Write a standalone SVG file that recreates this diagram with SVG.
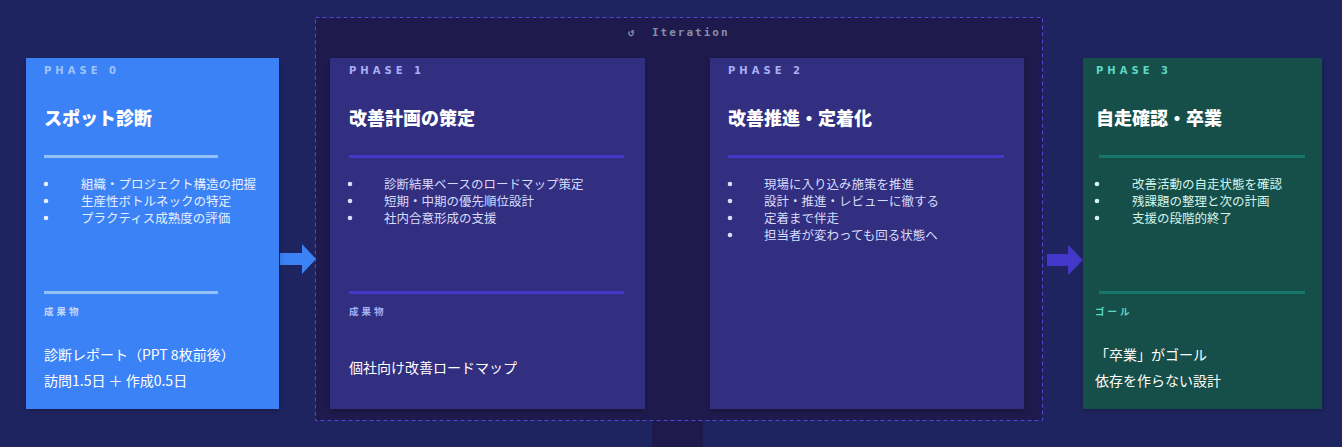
<svg xmlns="http://www.w3.org/2000/svg" width="1342" height="447" viewBox="0 0 1342 447">
<defs>
<style>
.jp{font-family:"Noto Sans CJK JP","Noto Sans",sans-serif}
.ph{font-family:"DejaVu Sans",sans-serif;font-weight:700;font-size:10px;letter-spacing:4px}
.ttl{font-family:"Noto Sans CJK JP",sans-serif;font-weight:800;font-size:18px;fill:#ffffff}
.li{font-family:"Noto Sans CJK JP",sans-serif;font-size:12.5px}
.lab{font-family:"Noto Sans CJK JP",sans-serif;font-weight:700;font-size:9.5px;letter-spacing:3px}
.dl{font-family:"Noto Sans CJK JP",sans-serif;font-size:14px;fill:#ffffff}
.it{font-family:"DejaVu Sans Mono",monospace;font-weight:700;font-size:11px;fill:#8a8ca6}
</style>
<filter id="sh" x="-10%" y="-10%" width="120%" height="120%">
<feDropShadow dx="0" dy="2" stdDeviation="3" flood-color="#000" flood-opacity="0.25"/>
</filter>
</defs>
<rect x="0" y="0" width="1342" height="447" fill="#1e2460"/>
<g id="iteration">
<rect x="652" y="415" width="51" height="32" fill="#1e1a4d"/>
<rect x="315.5" y="17.5" width="727" height="403" fill="#1e1a4d" stroke="#4f47d8" stroke-width="1" stroke-dasharray="4 3"/>
<text class="it" x="628" y="36">↺</text>
<text class="it" x="652" y="36" letter-spacing="2">Iteration</text>
</g>
<g id="connectors">
<polygon points="280,253 302,253 302,244 316,259 302,274 302,265 280,265" fill="#3b82f6"/>
<polygon points="1047,254 1068,254 1068,245 1083,260 1068,275 1068,266 1047,266" fill="#4338ca"/>
</g>
<g id="phase0">
<rect x="26" y="58" width="253" height="351" fill="#3b82f6" filter="url(#sh)"/>
<text class="ph" x="44" y="74" fill="#bcd6fb" fill-opacity="0.8">PHASE 0</text>
<text class="ttl" x="44" y="125">スポット診断</text>
<rect x="44" y="155" width="174" height="3" fill="#93c0fb"/>
<g fill="#e6efff">
<circle cx="46" cy="184" r="2.3"/><circle cx="46" cy="201" r="2.3"/><circle cx="46" cy="218" r="2.3"/>
<text class="li" x="81" y="189">組織・プロジェクト構造の把握</text>
<text class="li" x="81" y="206">生産性ボトルネックの特定</text>
<text class="li" x="81" y="223">プラクティス成熟度の評価</text>
</g>
<rect x="44" y="291" width="174" height="3" fill="#93c0fb"/>
<text class="lab" x="44" y="315" fill="#c3d9fb">成果物</text>
<text class="dl" x="44" y="360">診断レポート（PPT 8枚前後）</text>
<text class="dl" x="44" y="386">訪問1.5日 ＋ 作成0.5日</text>
</g>
<g id="phase1">
<rect x="330" y="58" width="315" height="351" fill="#312e80" filter="url(#sh)"/>
<text class="ph" x="349" y="74" fill="#a5b0f5">PHASE 1</text>
<text class="ttl" x="349" y="125">改善計画の策定</text>
<rect x="349" y="155" width="275" height="3" fill="#4338ca"/>
<g fill="#d6dcfb">
<circle cx="350" cy="184" r="2.3"/><circle cx="350" cy="201" r="2.3"/><circle cx="350" cy="218" r="2.3"/>
<text class="li" x="384" y="189">診断結果ベースのロードマップ策定</text>
<text class="li" x="384" y="206">短期・中期の優先順位設計</text>
<text class="li" x="384" y="223">社内合意形成の支援</text>
</g>
<rect x="349" y="291" width="275" height="3" fill="#4338ca"/>
<text class="lab" x="349" y="315" fill="#a5b0f5">成果物</text>
<text class="dl" x="349" y="373">個社向け改善ロードマップ</text>
</g>
<g id="phase2">
<rect x="710" y="58" width="314" height="351" fill="#312e80" filter="url(#sh)"/>
<text class="ph" x="728" y="74" fill="#a5b0f5">PHASE 2</text>
<text class="ttl" x="728" y="125">改善推進・定着化</text>
<rect x="728" y="155" width="276" height="3" fill="#4338ca"/>
<g fill="#d6dcfb">
<circle cx="730" cy="184" r="2.3"/><circle cx="730" cy="201" r="2.3"/><circle cx="730" cy="218" r="2.3"/><circle cx="730" cy="235" r="2.3"/>
<text class="li" x="764" y="189">現場に入り込み施策を推進</text>
<text class="li" x="764" y="206">設計・推進・レビューに徹する</text>
<text class="li" x="764" y="223">定着まで伴走</text>
<text class="li" x="764" y="240">担当者が変わっても回る状態へ</text>
</g>
</g>
<g id="phase3">
<rect x="1083" y="58" width="239" height="351" fill="#134f4a" filter="url(#sh)"/>
<text class="ph" x="1096" y="74" fill="#5ed8c4">PHASE 3</text>
<text class="ttl" x="1096" y="125">自走確認・卒業</text>
<rect x="1099" y="155" width="206" height="3" fill="#17766a"/>
<g fill="#d3f5ec">
<circle cx="1097" cy="184" r="2.3"/><circle cx="1097" cy="201" r="2.3"/><circle cx="1097" cy="218" r="2.3"/>
<text class="li" x="1132" y="189">改善活動の自走状態を確認</text>
<text class="li" x="1132" y="206">残課題の整理と次の計画</text>
<text class="li" x="1132" y="223">支援の段階的終了</text>
</g>
<rect x="1099" y="291" width="206" height="3" fill="#17766a"/>
<text class="lab" x="1095" y="315" fill="#5ed8c4">ゴール</text>
<text class="dl" x="1095" y="360">「卒業」がゴール</text>
<text class="dl" x="1095" y="386">依存を作らない設計</text>
</g>
</svg>
